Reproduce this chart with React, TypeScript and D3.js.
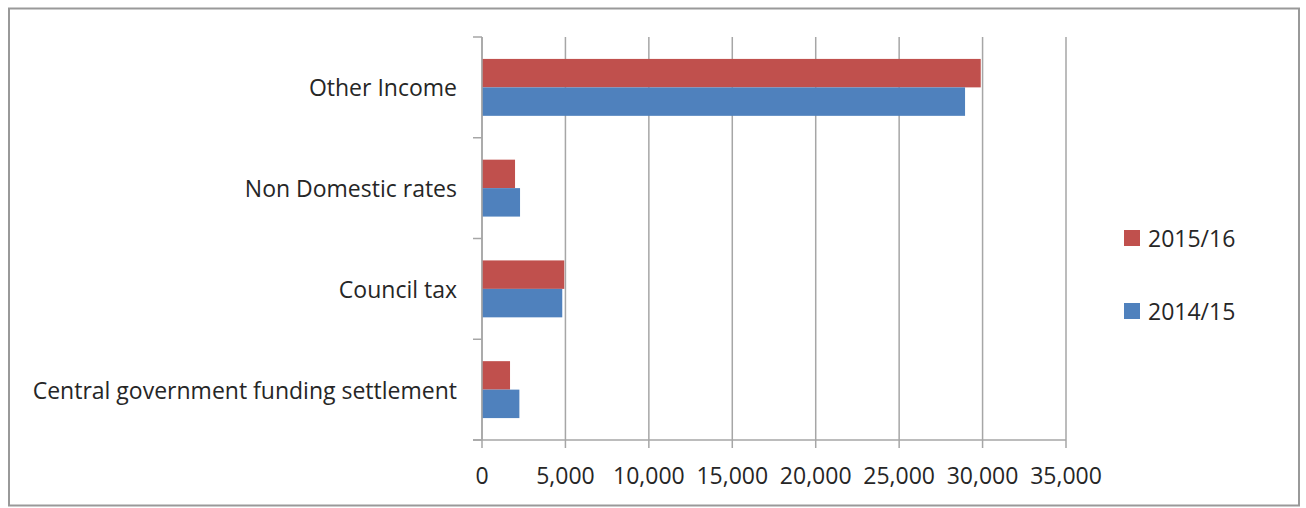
import React from "react";
import * as d3 from "d3";

const categories = [
  "Other Income",
  "Non Domestic rates",
  "Council tax",
  "Central government funding settlement",
];
const series = ["2015/16", "2014/15"];
const values2015 = [29890, 1980, 4930, 1680];
const values2014 = [28950, 2280, 4810, 2240];
const xTicks = [0, 5000, 10000, 15000, 20000, 25000, 30000, 35000];

const colors: Record<string, string> = { "2015/16": "#C0504D", "2014/15": "#4F81BD" };
const FONT = "'Open Sans', sans-serif";

export default function App() {
  const W = 1306, H = 508;
  const left = 482, right = 1066, top = 37, bottom = 440;
  const x = d3.scaleLinear().domain([0, 35000]).range([left, right]);
  const y = d3.scaleBand<string>().domain(categories).range([top, bottom]).paddingInner(0.435).paddingOuter(0.2175);
  const sub = d3.scaleBand<string>().domain(series).range([0, y.bandwidth()]);
  const fmt = d3.format(",");
  const step = y.step();
  const data: Record<string, number[]> = { "2015/16": values2015, "2014/15": values2014 };

  return (
    <svg width={W} height={H} style={{ position: "absolute", left: 0, top: 0 }}>
      <rect x={9} y={8.5} width={1290} height={497} fill="#fff" stroke="#999" strokeWidth={2} />
      {xTicks.map((t) => (
        <line key={"g" + t} x1={x(t)} x2={x(t)} y1={top} y2={bottom + 8} stroke="#A6A6A6" strokeWidth={1.5} />
      ))}
      {categories.map((c, i) =>
        series.map((s) => (
          <rect
            key={c + s}
            x={x(0)}
            y={(y(c) as number) + (sub(s) as number)}
            width={x(data[s][i]) - x(0)}
            height={sub.bandwidth()}
            fill={colors[s]}
          />
        ))
      )}
      <line x1={left} x2={left} y1={top} y2={bottom} stroke="#A6A6A6" strokeWidth={1.5} />
      <line x1={left - 9} x2={right} y1={bottom} y2={bottom} stroke="#A6A6A6" strokeWidth={1.5} />
      {d3.range(categories.length + 1).map((i) => (
        <line key={"t" + i} x1={left - 9} x2={left} y1={top + i * step} y2={top + i * step} stroke="#A6A6A6" strokeWidth={1.5} />
      ))}
      {categories.map((c) => (
        <text key={c} x={457} y={(y(c) as number) + y.bandwidth() / 2} textAnchor="end" dominantBaseline="central"
          fontFamily={FONT} fontSize={23} fill="#262626">
          {c}
        </text>
      ))}
      {xTicks.map((t) => (
        <text key={"l" + t} x={x(t)} y={475} textAnchor="middle" dominantBaseline="central" fontFamily={FONT} fontSize={23} fill="#262626">
          {fmt(t)}
        </text>
      ))}
      {series.map((s, i) => (
        <g key={s} transform={`translate(1124, ${230 + i * 73})`}>
          <rect x={0} y={0} width={16} height={16} fill={colors[s]} />
          <text x={24} y={8} dominantBaseline="central" fontFamily={FONT} fontSize={23} fill="#262626">{s}</text>
        </g>
      ))}
    </svg>
  );
}
